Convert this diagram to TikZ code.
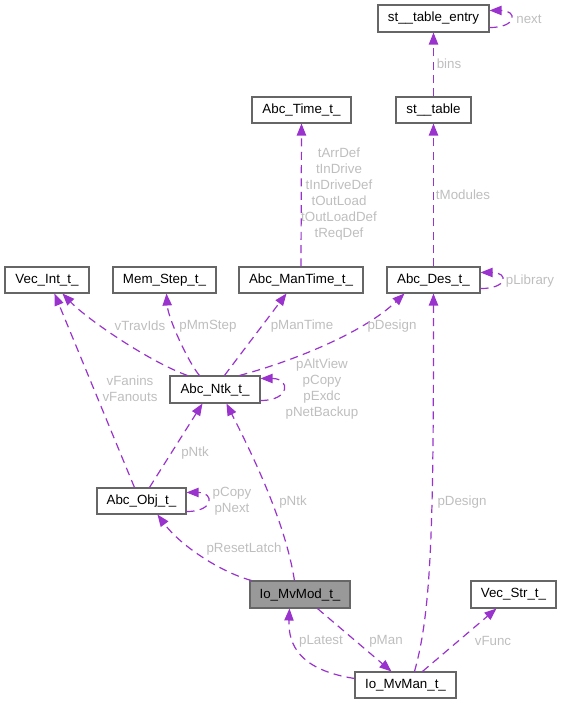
\documentclass[tikz,border=0pt]{standalone}
\usepackage{fontspec}
\setmainfont{Liberation Sans}
\usetikzlibrary{arrows.meta,calc}
\definecolor{edgec}{HTML}{9A32CD}
\definecolor{labc}{HTML}{BEBEBE}
\definecolor{boxc}{HTML}{666666}
\definecolor{selc}{HTML}{999999}
\tikzset{
 cls/.style 2 args={draw=boxc, line width=0.8pt, fill=white, inner sep=0pt,
   minimum width=#1*0.75pt, minimum height=#2*0.75pt, font=\fontsize{10}{12}\selectfont},
 edge/.style={draw=edgec, line width=0.9pt, dash pattern=on 6pt off 4pt,
   -{Triangle[length=9pt,width=7pt]}},
 lab/.style={text=labc, inner sep=0pt, font=\fontsize{10}{12}\selectfont, align=center},
}
\begin{document}
\begin{tikzpicture}[x=0.75pt,y=-0.75pt]
\useasboundingbox (0,0) rectangle (562,704);
% nodes
\node[cls={111}{27}] (ste) at (433.5,18.5) {st\_\_table\_entry};
\node[cls={75}{26}] (stt) at (433.5,110) {st\_\_table};
\node[cls={99}{26}] (time) at (301.5,110) {Abc\_Time\_t\_};
\node[cls={124}{26}] (mantime) at (301,280) {Abc\_ManTime\_t\_};
\node[cls={93}{26}] (des) at (433.5,280) {Abc\_Des\_t\_};
\node[cls={84}{26}] (vecint) at (47,280) {Vec\_Int\_t\_};
\node[cls={103}{26}] (memstep) at (164.5,280) {Mem\_Step\_t\_};
\node[cls={90}{27}] (ntk) at (215,389.5) {Abc\_Ntk\_t\_};
\node[cls={89}{26}] (obj) at (141.5,501) {Abc\_Obj\_t\_};
\node[cls={100}{27}, fill=selc] (mvmod) at (300,594.5) {Io\_MvMod\_t\_};
\node[cls={85}{27}] (vecstr) at (513.5,594.5) {Vec\_Str\_t\_};
\node[cls={101}{26}] (mvman) at (405.5,685) {Io\_MvMan\_t\_};
% edges
\draw[edge] ($(ste.south east)+(0,-5)$) .. controls +(28,0) and +(28,0) .. ($(ste.north east)+(0,6)$);
\draw[edge] (stt.north) -- (ste.south);
\draw[edge] (des.north) -- (stt.south);
\draw[edge] ($(des.south east)+(0,-5)$) .. controls +(28,0) and +(28,0) .. ($(des.north east)+(0,6)$);
\draw[edge] (mantime.north) -- (time.south);
\draw[edge] ($(ntk.north west)+(18,0)$) .. controls (150,362) and (88,320) .. ($(vecint.south west)+(58,0)$);
\draw[edge] ($(ntk.north west)+(30,0)$) .. controls (188,362) and (168,318) .. ($(memstep.south west)+(54,0)$);
\draw[edge] ($(ntk.north west)+(55,0)$) -- ($(mantime.south west)+(48,0)$);
\draw[edge] ($(ntk.north west)+(70,0)$) .. controls (290,362) and (362,334) .. ($(des.south west)+(18,0)$);
\draw[edge] ($(ntk.south east)+(0,-3)$) .. controls +(30,0) and +(30,0) .. ($(ntk.north east)+(0,3)$);
\draw[edge] ($(obj.north west)+(38,0)$) -- ($(vecint.south west)+(50,0)$);
\draw[edge] ($(obj.north west)+(53,0)$) -- ($(ntk.south west)+(33,0)$);
\draw[edge] ($(obj.south east)+(0,-3)$) .. controls +(28,0) and +(28,0) .. ($(obj.north east)+(0,5)$);
\draw[edge] ($(mvmod.north west)+(45,0)$) .. controls (285,520) and (250,450) .. ($(ntk.south west)+(57,0)$);
\draw[edge] ($(mvmod.north west)+(2,0)$) .. controls (220,572) and (180,545) .. ($(obj.south west)+(61,0)$);
\draw[edge] ($(mvmod.south west)+(68,0)$) -- ($(mvman.north west)+(37,0)$);
\draw[edge] ($(mvman.north west)+(0,7)$) .. controls (300,670) and (288,645) .. ($(mvmod.south west)+(40,0)$);
\draw[edge] ($(mvman.north west)+(60,0)$) .. controls (432,610) and (433.5,520) .. (des.south);
\draw[edge] ($(mvman.north west)+(68,0)$) -- ($(vecstr.south west)+(26,0)$);
% labels
\node[lab] (lnext) at (529,19) {next};
\node[lab] (lbins) at (449,64) {bins};
\node[lab] (ltmod) at (463,195) {tModules};
\node[lab] (lplib) at (530,281) {pLibrary};
\node[lab] (ltime) at (339,194.5) {tArrDef\\tInDrive\\tInDriveDef\\tOutLoad\\tOutLoadDef\\tReqDef};
\node[lab] (ltrav) at (140,326) {vTravIds};
\node[lab] (lmm) at (208,326) {pMmStep};
\node[lab] (lmt) at (302,326) {pManTime};
\node[lab] (ldes1) at (392,326) {pDesign};
\node[lab] (lntkloop) at (322,389) {pAltView\\pCopy\\pExdc\\pNetBackup};
\node[lab] (lfan) at (130,389) {vFanins\\vFanouts};
\node[lab] (lntk1) at (195,453) {pNtk};
\node[lab] (lobjloop) at (232,501.5) {pCopy\\pNext};
\node[lab] (lntk2) at (293,502) {pNtk};
\node[lab] (lreset) at (244,549) {pResetLatch};
\node[lab] (ldes2) at (462,502) {pDesign};
\node[lab] (llat) at (321,641) {pLatest};
\node[lab] (lman) at (386,641) {pMan};
\node[lab] (lfunc) at (493,641) {vFunc};
\end{tikzpicture}
\end{document}
